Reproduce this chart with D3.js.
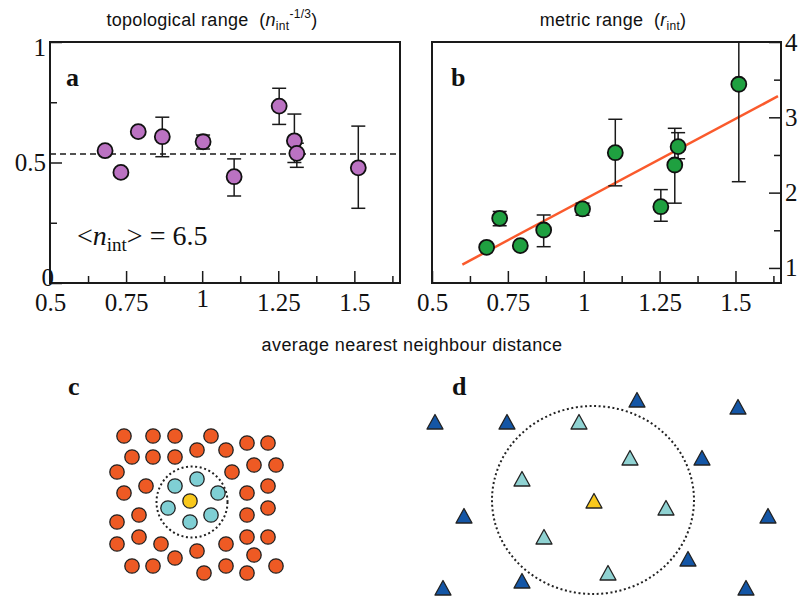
<!DOCTYPE html>
<html>
<head>
<meta charset="utf-8">
<script src="https://cdn.jsdelivr.net/npm/d3@7"></script>
<style>
  body { margin: 0; background: #fff; }
  svg { display: block; }
</style>
</head>
<body>
<svg id="chart" width="798" height="598"></svg>
<script>
// shared x axis
const xTicks = [0.5, 0.75, 1, 1.25, 1.5];
const xMinor = [0.625, 0.875, 1.125, 1.375, 1.625];

// panel a: topological range
const topoTicks = [0, 0.5, 1];
const topoMinor = [0.25, 0.75];
const topoX = [0.681, 0.733, 0.790, 0.869, 1.003, 1.105, 1.253, 1.303, 1.311, 1.513];
const topoY = [0.549, 0.459, 0.628, 0.607, 0.586, 0.441, 0.734, 0.590, 0.538, 0.478];
const topoLo = [null, null, null, 0.524, 0.556, 0.361, 0.658, 0.500, 0.480, 0.310];
const topoHi = [null, null, null, 0.688, 0.614, 0.515, 0.808, 0.701, 0.580, 0.651];
const topoMean = 0.535;

// panel b: metric range
const metricTicks = [1, 2, 3, 4];
const metricMinor = [1.5, 2.5, 3.5];
const metricX = [0.680, 0.723, 0.791, 0.868, 0.996, 1.104, 1.254, 1.300, 1.311, 1.511];
const metricY = [1.274, 1.659, 1.296, 1.504, 1.783, 2.530, 1.813, 2.367, 2.610, 3.439];
const metricLo = [null, 1.560, null, 1.282, 1.700, 2.090, 1.620, 1.860, 2.450, 2.145];
const metricHi = [null, 1.750, null, 1.703, 1.860, 2.974, 2.040, 2.854, 2.796, 4.000];
const fitX = [0.6, 1.64];
const fitY = [1.045, 3.28];

// panel c: topological neighbours (positions in panel units)
const cOthers = [
  [64, 66], [93, 66], [115, 66], [151, 66], [187, 73], [208, 73],
  [72, 87], [93, 87], [115, 87], [137, 80], [166, 80], [194, 95], [216, 95],
  [57, 102], [172, 102],
  [64, 123], [86, 116], [187, 123], [208, 116],
  [57, 152], [79, 145], [187, 145], [208, 138],
  [57, 174], [79, 167], [101, 174], [137, 181], [166, 174], [187, 167], [208, 167], [194, 185],
  [72, 196], [93, 196], [115, 188], [144, 203], [166, 196], [187, 203], [216, 196]
];
const cNeighbours = [[115, 116], [137, 109], [158, 123], [108, 138], [130, 152], [151, 145]];
const cFocal = [130, 131];
const cRange = { cx: 132, cy: 132, r: 35.5 };

// panel d: metric neighbours
const dOthers = [
  [35, 52], [107, 52], [237, 30], [338, 37], [302, 88], [64, 146],
  [368, 146], [288, 189], [43, 218], [122, 211], [346, 218]
];
const dNeighbours = [[179, 52], [230, 88], [122, 109], [266, 138], [144, 167], [208, 203]];
const dFocal = [194, 131];
const dRange = { cx: 193, cy: 130, rx: 101, ry: 94 };

const serif = "'Liberation Serif', 'Times New Roman', serif";
const sans = "'Liberation Sans', Arial, sans-serif";
const ink = "#1a1a1a";

const svg = d3.select("#chart");

const plotTop = 42, plotBottom = 283;

function panelAxes(x, y, yTicks, yMinor, side) {
  const g = svg.append("g");
  g.append("rect")
    .attr("x", x.range()[0]).attr("y", plotTop)
    .attr("width", x.range()[1] - x.range()[0]).attr("height", plotBottom - plotTop)
    .attr("fill", "none").attr("stroke", ink).attr("stroke-width", 2);

  g.append("g").attr("transform", `translate(0,${plotBottom})`)
    .call(d3.axisBottom(x).tickValues(xTicks).tickSize(-12).tickPadding(10)
      .tickFormat(d => String(d)));
  g.append("g").attr("transform", `translate(0,${plotBottom})`)
    .call(d3.axisBottom(x).tickValues(xMinor).tickSize(-7).tickFormat(""));

  const xPos = side === "left" ? x.range()[0] : x.range()[1];
  const axisFn = side === "left" ? d3.axisLeft : d3.axisRight;
  g.append("g").attr("transform", `translate(${xPos},0)`)
    .call(axisFn(y).tickValues(yTicks).tickSize(-12).tickPadding(4)
      .tickFormat(d => String(d)));
  g.append("g").attr("transform", `translate(${xPos},0)`)
    .call(axisFn(y).tickValues(yMinor).tickSize(-7).tickFormat(""));

  g.selectAll(".domain").remove();
  g.selectAll(".tick line").attr("stroke", ink).attr("stroke-width", 1.5);
  g.selectAll(".tick text").attr("font-family", serif).attr("font-size", 25).attr("fill", "#111");
  return g;
}

function errorBars(x, y, xs, lo, hi) {
  const idx = xs.map((d, i) => i).filter(i => lo[i] !== null);
  const g = svg.append("g").attr("stroke", ink).attr("stroke-width", 1.5);
  g.selectAll(".eb").data(idx).join("line")
    .attr("x1", i => x(xs[i])).attr("x2", i => x(xs[i]))
    .attr("y1", i => y(lo[i])).attr("y2", i => y(hi[i]));
  [lo, hi].forEach(arr => {
    g.append("g").selectAll("line").data(idx).join("line")
      .attr("x1", i => x(xs[i]) - 7).attr("x2", i => x(xs[i]) + 7)
      .attr("y1", i => y(arr[i])).attr("y2", i => y(arr[i]));
  });
}

function dots(x, y, xs, ys, fill) {
  svg.append("g").selectAll("circle").data(xs).join("circle")
    .attr("cx", d => x(d)).attr("cy", (d, i) => y(ys[i]))
    .attr("r", 7.5).attr("fill", fill).attr("stroke", "#111").attr("stroke-width", 1.8);
}

// ---- panel a
const xA = d3.scaleLinear().domain([0.5, 1.65]).range([50, 400]);
const yA = d3.scaleLinear().domain([0, 1]).range([plotBottom, plotTop]);
const gA = panelAxes(xA, yA, topoTicks, topoMinor, "left");
gA.selectAll(".tick text").filter(d => d === 0).attr("dx", 8).attr("dy", "0.1em");
gA.selectAll(".tick text").filter(d => d === 1).attr("dy", "0.55em");

svg.append("line")
  .attr("x1", xA.range()[0]).attr("x2", xA.range()[1])
  .attr("y1", yA(topoMean)).attr("y2", yA(topoMean))
  .attr("stroke", ink).attr("stroke-width", 1.5).attr("stroke-dasharray", "6,4");
errorBars(xA, yA, topoX, topoLo, topoHi);
dots(xA, yA, topoX, topoY, "#bb72c2");

// ---- panel b
const xB = d3.scaleLinear().domain([0.5, 1.65]).range([432, 781]);
const yB = d3.scaleLinear().domain([0.8, 4]).range([plotBottom, plotTop]);
panelAxes(xB, yB, metricTicks, metricMinor, "right");

svg.append("line")
  .attr("x1", xB(fitX[0])).attr("y1", yB(fitY[0]))
  .attr("x2", xB(fitX[1])).attr("y2", yB(fitY[1]))
  .attr("stroke", "#fa5a2c").attr("stroke-width", 2.5);
errorBars(xB, yB, metricX, metricLo, metricHi);
dots(xB, yB, metricX, metricY, "#1fa040");

// ---- titles and labels
const tA = svg.append("text").attr("x", 212).attr("y", 26).attr("text-anchor", "middle")
  .attr("font-family", sans).attr("font-size", 18).attr("letter-spacing", 0.3).attr("fill", "#111");
tA.append("tspan").text("topological range  (").attr("xml:space", "preserve");
tA.append("tspan").text("n").attr("font-style", "italic");
tA.append("tspan").text("int").attr("font-size", 12).attr("dy", 4);
tA.append("tspan").text("-1/3").attr("font-size", 12).attr("dy", -12);
tA.append("tspan").text(")").attr("dy", 8);

const tB = svg.append("text").attr("x", 613).attr("y", 26).attr("text-anchor", "middle")
  .attr("font-family", sans).attr("font-size", 18).attr("letter-spacing", 0.3).attr("fill", "#111");
tB.append("tspan").text("metric range  (").attr("xml:space", "preserve");
tB.append("tspan").text("r").attr("font-style", "italic");
tB.append("tspan").text("int").attr("font-size", 12).attr("dy", 4);
tB.append("tspan").text(")").attr("dy", -4);

svg.append("text").attr("x", 412).attr("y", 351).attr("text-anchor", "middle")
  .attr("font-family", sans).attr("font-size", 18).attr("letter-spacing", 0.4).attr("fill", "#111")
  .text("average nearest neighbour distance");

const nLabel = svg.append("text").attr("x", 77).attr("y", 245)
  .attr("font-family", serif).attr("font-size", 28).attr("fill", "#111");
nLabel.append("tspan").text("<");
nLabel.append("tspan").text("n").attr("font-style", "italic");
nLabel.append("tspan").text("int").attr("font-size", 19).attr("dy", 6);
nLabel.append("tspan").text("> = 6.5").attr("dy", -6);

[["a", 66, 86], ["b", 451, 86], ["c", 68, 395], ["d", 452, 395]].forEach(([t, x, y]) => {
  svg.append("text").attr("x", x).attr("y", y)
    .attr("font-family", serif).attr("font-weight", "bold").attr("font-size", 26)
    .attr("fill", "#111").text(t);
});

// ---- panel c
const xC = d3.scaleLinear().domain([0, 300]).range([60, 360]);
const yC = d3.scaleLinear().domain([0, 228]).range([370, 598]);
const gC = svg.append("g");
gC.append("circle").attr("cx", xC(cRange.cx)).attr("cy", yC(cRange.cy))
  .attr("r", xC(cRange.r) - xC(0))
  .attr("fill", "none").attr("stroke", "#222").attr("stroke-width", 2).attr("stroke-dasharray", "2,2.6");
const dotC = (data, fill) => gC.append("g").selectAll("circle").data(data).join("circle")
  .attr("cx", d => xC(d[0])).attr("cy", d => yC(d[1])).attr("r", 7.2)
  .attr("fill", fill).attr("stroke", "#222").attr("stroke-width", 1.3);
dotC(cOthers, "#ee5a24");
dotC(cNeighbours, "#7fcfd4");
dotC([cFocal], "#f8c81c");

// ---- panel d
const xD = d3.scaleLinear().domain([0, 398]).range([400, 798]);
const yD = d3.scaleLinear().domain([0, 228]).range([370, 598]);
const gD = svg.append("g");
gD.append("ellipse").attr("cx", xD(dRange.cx)).attr("cy", yD(dRange.cy))
  .attr("rx", dRange.rx).attr("ry", dRange.ry)
  .attr("fill", "none").attr("stroke", "#222").attr("stroke-width", 2).attr("stroke-dasharray", "2,2.6");
const tri = "M0,-7.5L8,7L-8,7Z";
const triD = (data, fill) => gD.append("g").selectAll("path").data(data).join("path")
  .attr("d", tri).attr("transform", d => `translate(${xD(d[0])},${yD(d[1])})`)
  .attr("fill", fill).attr("stroke", "#222").attr("stroke-width", 1.3).attr("stroke-linejoin", "round");
triD(dOthers, "#1456a6");
triD(dNeighbours, "#8fd2d2");
triD([dFocal], "#f8c81c");
</script>
</body>
</html>
